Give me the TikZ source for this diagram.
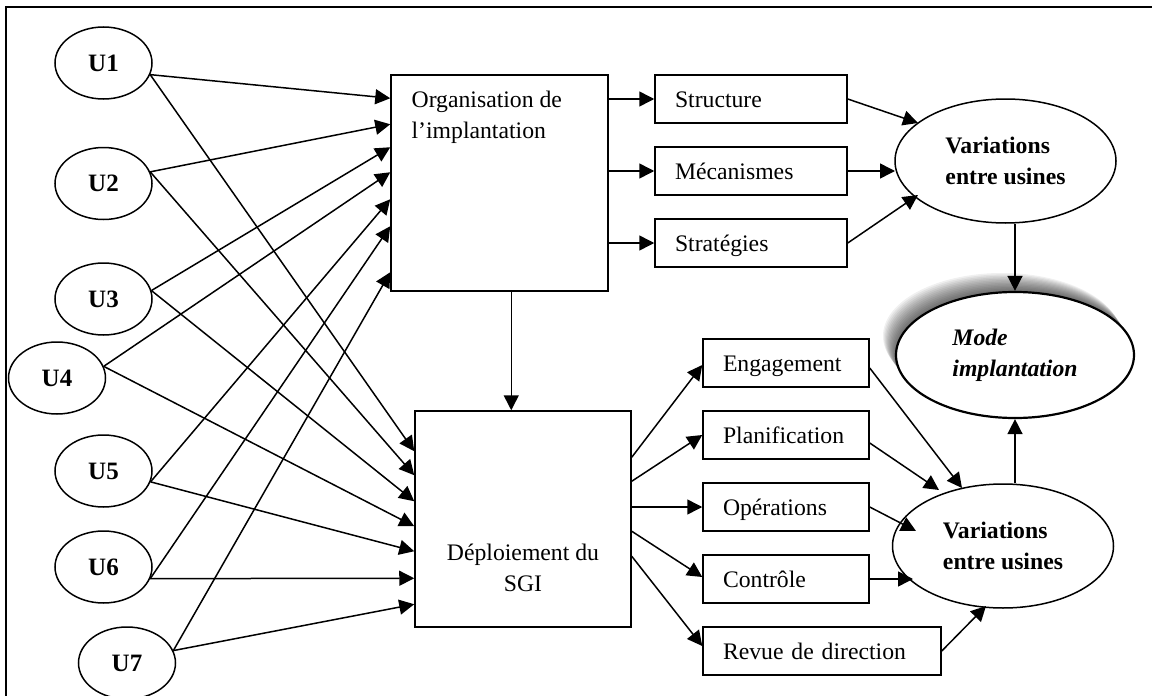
\documentclass[tikz,border=0pt]{standalone}
\usepackage{fontspec}
\setmainfont{Liberation Serif}
\usetikzlibrary{shapes.geometric,arrows.meta,calc}

\begin{document}
\begin{tikzpicture}[x=0.5pt,y=-0.5pt,
  txt/.style={font=\fontsize{11.85pt}{15.5pt}\selectfont},
  unit/.style={ellipse, draw, line width=0.75pt, minimum width=48.5pt, minimum height=36pt,
    inner sep=0pt, font=\fontsize{12.5pt}{15pt}\selectfont\bfseries},
  bigbox/.style={rectangle, draw, line width=0.75pt, minimum width=108.5pt, minimum height=108pt, inner sep=0pt},
  itembox/.style={rectangle, draw, line width=0.75pt, txt, minimum height=24pt, inner xsep=10pt,
    inner ysep=0pt, text width=#1, align=left, text height=8pt, text depth=0pt},
  varell/.style={ellipse, draw, line width=0.75pt, minimum width=110.5pt, minimum height=62pt,
    inner sep=0pt, align=left, font=\fontsize{11.85pt}{15.5pt}\selectfont\bfseries},
  conn/.style={line width=0.75pt, -{Triangle[length=7.5pt,width=7.5pt]}},
]
\useasboundingbox (0,0) rectangle (1152,696);

% frame
\draw[line width=1pt] (6,696) -- (6,7) -- (1152,7);

% plants
\node[unit] (U1) at (103.5,63) {U1};
\node[unit] (U2) at (103.5,183.5) {U2};
\node[unit] (U3) at (103.5,299) {U3};
\node[unit] (U4) at (57,378) {U4};
\node[unit] (U5) at (103.5,471) {U5};
\node[unit] (U6) at (103.5,567) {U6};
\node[unit] (U7) at (127,663) {U7};

% central blocks
\node[bigbox, label={[txt, anchor=north west, align=left, inner sep=0pt, xshift=10.5pt, yshift=-8.4pt]north west:Organisation de\\l’implantation}] (org) at (499.5,183) {};
\node[bigbox, minimum width=108pt, label={[txt, align=center, inner sep=0pt, yshift=-24.5pt]center:Déploiement du\\SGI}] (deploy) at (523,519) {};

% organisation items
\node[itembox=76pt] (struct) at (751,99) {Structure};
\node[itembox=76pt] (mec) at (751,171) {Mécanismes};
\node[itembox=76pt] (strat) at (751,243) {Stratégies};

% deployment items
\node[itembox=63pt] (eng) at (786,363) {Engagement};
\node[itembox=63pt] (plan) at (786,435) {Planification};
\node[itembox=63pt] (ope) at (786,507) {Opérations};
\node[itembox=63pt] (ctl) at (786,579) {Contrôle};
\node[itembox=99pt] (rev) at (822,651) {Revue de direction};

% outcome ellipses
\node[varell] (var1) at (1005.5,161) {Variations\\entre usines};
\node[varell] (var2) at (1003,546) {Variations\\entre usines};

% soft shadow behind the implementation mode, built from stacked translucent ellipses
\foreach \k in {0,...,13}
  \fill[black, fill opacity=0.06] ({1002+\k},{336+1.4*\k}) ellipse [x radius=59.5pt, y radius=31.5pt];
\node[ellipse, draw, fill=white, line width=1.1pt, minimum width=119pt, minimum height=63pt,
  inner sep=0pt, align=left, font=\fontsize{11.85pt}{15.5pt}\selectfont\bfseries\itshape] (mode) at (1015,355) {Mode\\implantation};

% plants to both blocks
\foreach \u/\a/\o/\d in {1/-14/24/41, 2/14/50/65, 3/10/73/91, 4/14/98/116,
                         5/-13/125/141, 6/-14/152/168, 7/15/198/194} {
  \draw[conn] (U\u.\a) -- ($(org.north west)+(0,\o)$);
  \draw[conn] (U\u.\a) -- ($(deploy.north west)+(0,\d)$);
}

% organisation
\foreach \b in {struct,mec,strat}
  \draw[conn] (org.east |- \b.west) -- (\b.west);
\draw[conn] ($(org.south west)+(121,0)$) -- ($(deploy.north west)+(97,0)$);
\draw[conn] (struct.east) -- ($(var1.center)+(-87.5,-38)$);
\draw[conn] (mec.east) -- ($(var1.center)+(-110.5,10)$);
\draw[conn] (strat.east) -- ($(var1.center)+(-87.5,34)$);
\draw[conn] (mode.north |- var1.south) -- (mode.north);

% deployment
\draw[conn] ($(deploy.north east)+(0,47)$) -- ($(eng.west)+(0,2)$);
\draw[conn] ($(deploy.north east)+(0,71)$) -- (plan.west);
\draw[conn] (deploy.east |- ope.west) -- (ope.west);
\draw[conn] ($(deploy.north east)+(0,121)$) -- ($(ctl.west)+(0,-2)$);
\draw[conn] ($(deploy.north east)+(0,146)$) -- ($(rev.west)+(0,-5)$);
\draw[conn] ($(eng.east)+(0,5)$) -- ($(var2.center)+(-41,-58)$);
\draw[conn] ($(plan.east)+(0,8)$) -- ($(var2.center)+(-64,-56)$);
\draw[conn] (ope.east) -- ($(var2.center)+(-87,-15)$);
\draw[conn] (ctl.east) -- ($(var2.center)+(-90,33)$);
\draw[conn] (rev.east) -- ($(var2.center)+(-17,60)$);
\draw[conn] (mode.south |- var2.north) -- (mode.south);
\end{tikzpicture}
\end{document}
